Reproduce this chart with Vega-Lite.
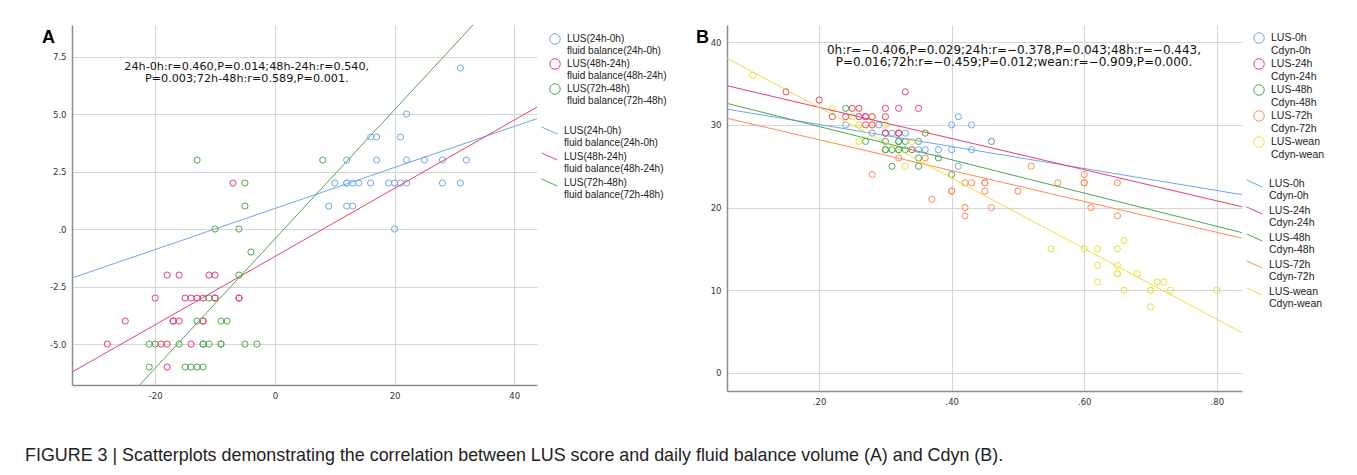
{
  "$schema": "https://vega.github.io/schema/vega-lite/v6.json",
  "background": "white",
  "padding": {"left": 25, "top": 25, "right": 5, "bottom": 5},
  "datasets": {
    "A_pts": [
      {"x": 31, "y": 7, "s": "LUS(24h-0h)|fluid balance(24h-0h)"},
      {"x": 22, "y": 5, "s": "LUS(24h-0h)|fluid balance(24h-0h)"},
      {"x": 16, "y": 4, "s": "LUS(24h-0h)|fluid balance(24h-0h)"},
      {"x": 17, "y": 4, "s": "LUS(24h-0h)|fluid balance(24h-0h)"},
      {"x": 21, "y": 4, "s": "LUS(24h-0h)|fluid balance(24h-0h)"},
      {"x": 12, "y": 3, "s": "LUS(24h-0h)|fluid balance(24h-0h)"},
      {"x": 17, "y": 3, "s": "LUS(24h-0h)|fluid balance(24h-0h)"},
      {"x": 22, "y": 3, "s": "LUS(24h-0h)|fluid balance(24h-0h)"},
      {"x": 25, "y": 3, "s": "LUS(24h-0h)|fluid balance(24h-0h)"},
      {"x": 28, "y": 3, "s": "LUS(24h-0h)|fluid balance(24h-0h)"},
      {"x": 32, "y": 3, "s": "LUS(24h-0h)|fluid balance(24h-0h)"},
      {"x": 10, "y": 2, "s": "LUS(24h-0h)|fluid balance(24h-0h)"},
      {"x": 12, "y": 2, "s": "LUS(24h-0h)|fluid balance(24h-0h)"},
      {"x": 12, "y": 2, "s": "LUS(24h-0h)|fluid balance(24h-0h)"},
      {"x": 13, "y": 2, "s": "LUS(24h-0h)|fluid balance(24h-0h)"},
      {"x": 14, "y": 2, "s": "LUS(24h-0h)|fluid balance(24h-0h)"},
      {"x": 16, "y": 2, "s": "LUS(24h-0h)|fluid balance(24h-0h)"},
      {"x": 19, "y": 2, "s": "LUS(24h-0h)|fluid balance(24h-0h)"},
      {"x": 20, "y": 2, "s": "LUS(24h-0h)|fluid balance(24h-0h)"},
      {"x": 21, "y": 2, "s": "LUS(24h-0h)|fluid balance(24h-0h)"},
      {"x": 22, "y": 2, "s": "LUS(24h-0h)|fluid balance(24h-0h)"},
      {"x": 28, "y": 2, "s": "LUS(24h-0h)|fluid balance(24h-0h)"},
      {"x": 31, "y": 2, "s": "LUS(24h-0h)|fluid balance(24h-0h)"},
      {"x": 9, "y": 1, "s": "LUS(24h-0h)|fluid balance(24h-0h)"},
      {"x": 12, "y": 1, "s": "LUS(24h-0h)|fluid balance(24h-0h)"},
      {"x": 13, "y": 1, "s": "LUS(24h-0h)|fluid balance(24h-0h)"},
      {"x": 20, "y": 0, "s": "LUS(24h-0h)|fluid balance(24h-0h)"},
      {"x": -7, "y": 2, "s": "LUS(48h-24h)|fluid balance(48h-24h)"},
      {"x": -18, "y": -2, "s": "LUS(48h-24h)|fluid balance(48h-24h)"},
      {"x": -16, "y": -2, "s": "LUS(48h-24h)|fluid balance(48h-24h)"},
      {"x": -11, "y": -2, "s": "LUS(48h-24h)|fluid balance(48h-24h)"},
      {"x": -10, "y": -2, "s": "LUS(48h-24h)|fluid balance(48h-24h)"},
      {"x": -20, "y": -3, "s": "LUS(48h-24h)|fluid balance(48h-24h)"},
      {"x": -15, "y": -3, "s": "LUS(48h-24h)|fluid balance(48h-24h)"},
      {"x": -14, "y": -3, "s": "LUS(48h-24h)|fluid balance(48h-24h)"},
      {"x": -13, "y": -3, "s": "LUS(48h-24h)|fluid balance(48h-24h)"},
      {"x": -12, "y": -3, "s": "LUS(48h-24h)|fluid balance(48h-24h)"},
      {"x": -10, "y": -3, "s": "LUS(48h-24h)|fluid balance(48h-24h)"},
      {"x": -10, "y": -3, "s": "LUS(48h-24h)|fluid balance(48h-24h)"},
      {"x": -6, "y": -3, "s": "LUS(48h-24h)|fluid balance(48h-24h)"},
      {"x": -6, "y": -3, "s": "LUS(48h-24h)|fluid balance(48h-24h)"},
      {"x": -25, "y": -4, "s": "LUS(48h-24h)|fluid balance(48h-24h)"},
      {"x": -17, "y": -4, "s": "LUS(48h-24h)|fluid balance(48h-24h)"},
      {"x": -17, "y": -4, "s": "LUS(48h-24h)|fluid balance(48h-24h)"},
      {"x": -16, "y": -4, "s": "LUS(48h-24h)|fluid balance(48h-24h)"},
      {"x": -12, "y": -4, "s": "LUS(48h-24h)|fluid balance(48h-24h)"},
      {"x": -12, "y": -4, "s": "LUS(48h-24h)|fluid balance(48h-24h)"},
      {"x": -28, "y": -5, "s": "LUS(48h-24h)|fluid balance(48h-24h)"},
      {"x": -19, "y": -5, "s": "LUS(48h-24h)|fluid balance(48h-24h)"},
      {"x": -18, "y": -5, "s": "LUS(48h-24h)|fluid balance(48h-24h)"},
      {"x": -14, "y": -5, "s": "LUS(48h-24h)|fluid balance(48h-24h)"},
      {"x": -18, "y": -6, "s": "LUS(48h-24h)|fluid balance(48h-24h)"},
      {"x": -13, "y": 3, "s": "LUS(72h-48h)|fluid balance(72h-48h)"},
      {"x": 8, "y": 3, "s": "LUS(72h-48h)|fluid balance(72h-48h)"},
      {"x": -5, "y": 2, "s": "LUS(72h-48h)|fluid balance(72h-48h)"},
      {"x": -5, "y": 1, "s": "LUS(72h-48h)|fluid balance(72h-48h)"},
      {"x": -10, "y": 0, "s": "LUS(72h-48h)|fluid balance(72h-48h)"},
      {"x": -6, "y": 0, "s": "LUS(72h-48h)|fluid balance(72h-48h)"},
      {"x": -4, "y": -1, "s": "LUS(72h-48h)|fluid balance(72h-48h)"},
      {"x": -6, "y": -2, "s": "LUS(72h-48h)|fluid balance(72h-48h)"},
      {"x": -11, "y": -3, "s": "LUS(72h-48h)|fluid balance(72h-48h)"},
      {"x": -13, "y": -4, "s": "LUS(72h-48h)|fluid balance(72h-48h)"},
      {"x": -9, "y": -4, "s": "LUS(72h-48h)|fluid balance(72h-48h)"},
      {"x": -8, "y": -4, "s": "LUS(72h-48h)|fluid balance(72h-48h)"},
      {"x": -21, "y": -5, "s": "LUS(72h-48h)|fluid balance(72h-48h)"},
      {"x": -20, "y": -5, "s": "LUS(72h-48h)|fluid balance(72h-48h)"},
      {"x": -16, "y": -5, "s": "LUS(72h-48h)|fluid balance(72h-48h)"},
      {"x": -12, "y": -5, "s": "LUS(72h-48h)|fluid balance(72h-48h)"},
      {"x": -12, "y": -5, "s": "LUS(72h-48h)|fluid balance(72h-48h)"},
      {"x": -11, "y": -5, "s": "LUS(72h-48h)|fluid balance(72h-48h)"},
      {"x": -9, "y": -5, "s": "LUS(72h-48h)|fluid balance(72h-48h)"},
      {"x": -9, "y": -5, "s": "LUS(72h-48h)|fluid balance(72h-48h)"},
      {"x": -5, "y": -5, "s": "LUS(72h-48h)|fluid balance(72h-48h)"},
      {"x": -3, "y": -5, "s": "LUS(72h-48h)|fluid balance(72h-48h)"},
      {"x": -21, "y": -6, "s": "LUS(72h-48h)|fluid balance(72h-48h)"},
      {"x": -15, "y": -6, "s": "LUS(72h-48h)|fluid balance(72h-48h)"},
      {"x": -14, "y": -6, "s": "LUS(72h-48h)|fluid balance(72h-48h)"},
      {"x": -13, "y": -6, "s": "LUS(72h-48h)|fluid balance(72h-48h)"},
      {"x": -12, "y": -6, "s": "LUS(72h-48h)|fluid balance(72h-48h)"}
    ],
    "A_fit": [
      {"x": -33.9, "y": -2.13, "f": "LUS(24h-0h)|fluid balance(24h-0h)"},
      {"x": 43.8, "y": 4.8, "f": "LUS(24h-0h)|fluid balance(24h-0h)"},
      {"x": -33.9, "y": -6.22, "f": "LUS(48h-24h)|fluid balance(48h-24h)"},
      {"x": 43.8, "y": 5.3, "f": "LUS(48h-24h)|fluid balance(48h-24h)"},
      {"x": -22.6, "y": -6.78, "f": "LUS(72h-48h)|fluid balance(72h-48h)"},
      {"x": 33.1, "y": 8.87, "f": "LUS(72h-48h)|fluid balance(72h-48h)"}
    ],
    "A_note": [
      {"x": -4.7, "y": 7.03, "t": "24h-0h:r=0.460,P=0.014;48h-24h:r=0.540,\nP=0.003;72h-48h:r=0.589,P=0.001."}
    ],
    "B_pts": [
      {"x": 0.24, "y": 30, "s": "LUS-0h|Cdyn-0h"},
      {"x": 0.28, "y": 29, "s": "LUS-0h|Cdyn-0h"},
      {"x": 0.29, "y": 30, "s": "LUS-0h|Cdyn-0h"},
      {"x": 0.31, "y": 29, "s": "LUS-0h|Cdyn-0h"},
      {"x": 0.33, "y": 29, "s": "LUS-0h|Cdyn-0h"},
      {"x": 0.35, "y": 27, "s": "LUS-0h|Cdyn-0h"},
      {"x": 0.36, "y": 27, "s": "LUS-0h|Cdyn-0h"},
      {"x": 0.38, "y": 27, "s": "LUS-0h|Cdyn-0h"},
      {"x": 0.40, "y": 30, "s": "LUS-0h|Cdyn-0h"},
      {"x": 0.40, "y": 27, "s": "LUS-0h|Cdyn-0h"},
      {"x": 0.41, "y": 31, "s": "LUS-0h|Cdyn-0h"},
      {"x": 0.41, "y": 25, "s": "LUS-0h|Cdyn-0h"},
      {"x": 0.43, "y": 30, "s": "LUS-0h|Cdyn-0h"},
      {"x": 0.43, "y": 27, "s": "LUS-0h|Cdyn-0h"},
      {"x": 0.15, "y": 34, "s": "LUS-24h|Cdyn-24h"},
      {"x": 0.20, "y": 33, "s": "LUS-24h|Cdyn-24h"},
      {"x": 0.22, "y": 31, "s": "LUS-24h|Cdyn-24h"},
      {"x": 0.24, "y": 31, "s": "LUS-24h|Cdyn-24h"},
      {"x": 0.25, "y": 32, "s": "LUS-24h|Cdyn-24h"},
      {"x": 0.26, "y": 32, "s": "LUS-24h|Cdyn-24h"},
      {"x": 0.26, "y": 31, "s": "LUS-24h|Cdyn-24h"},
      {"x": 0.27, "y": 31, "s": "LUS-24h|Cdyn-24h"},
      {"x": 0.27, "y": 31, "s": "LUS-24h|Cdyn-24h"},
      {"x": 0.27, "y": 30, "s": "LUS-24h|Cdyn-24h"},
      {"x": 0.28, "y": 31, "s": "LUS-24h|Cdyn-24h"},
      {"x": 0.28, "y": 30, "s": "LUS-24h|Cdyn-24h"},
      {"x": 0.30, "y": 32, "s": "LUS-24h|Cdyn-24h"},
      {"x": 0.30, "y": 31, "s": "LUS-24h|Cdyn-24h"},
      {"x": 0.30, "y": 29, "s": "LUS-24h|Cdyn-24h"},
      {"x": 0.30, "y": 29, "s": "LUS-24h|Cdyn-24h"},
      {"x": 0.32, "y": 32, "s": "LUS-24h|Cdyn-24h"},
      {"x": 0.32, "y": 29, "s": "LUS-24h|Cdyn-24h"},
      {"x": 0.32, "y": 29, "s": "LUS-24h|Cdyn-24h"},
      {"x": 0.33, "y": 34, "s": "LUS-24h|Cdyn-24h"},
      {"x": 0.34, "y": 27, "s": "LUS-24h|Cdyn-24h"},
      {"x": 0.35, "y": 32, "s": "LUS-24h|Cdyn-24h"},
      {"x": 0.24, "y": 32, "s": "LUS-48h|Cdyn-48h"},
      {"x": 0.27, "y": 28, "s": "LUS-48h|Cdyn-48h"},
      {"x": 0.30, "y": 28, "s": "LUS-48h|Cdyn-48h"},
      {"x": 0.30, "y": 27, "s": "LUS-48h|Cdyn-48h"},
      {"x": 0.30, "y": 27, "s": "LUS-48h|Cdyn-48h"},
      {"x": 0.31, "y": 27, "s": "LUS-48h|Cdyn-48h"},
      {"x": 0.31, "y": 25, "s": "LUS-48h|Cdyn-48h"},
      {"x": 0.32, "y": 28, "s": "LUS-48h|Cdyn-48h"},
      {"x": 0.32, "y": 28, "s": "LUS-48h|Cdyn-48h"},
      {"x": 0.32, "y": 27, "s": "LUS-48h|Cdyn-48h"},
      {"x": 0.32, "y": 27, "s": "LUS-48h|Cdyn-48h"},
      {"x": 0.33, "y": 28, "s": "LUS-48h|Cdyn-48h"},
      {"x": 0.33, "y": 27, "s": "LUS-48h|Cdyn-48h"},
      {"x": 0.35, "y": 28, "s": "LUS-48h|Cdyn-48h"},
      {"x": 0.35, "y": 26, "s": "LUS-48h|Cdyn-48h"},
      {"x": 0.35, "y": 25, "s": "LUS-48h|Cdyn-48h"},
      {"x": 0.36, "y": 29, "s": "LUS-48h|Cdyn-48h"},
      {"x": 0.38, "y": 26, "s": "LUS-48h|Cdyn-48h"},
      {"x": 0.40, "y": 24, "s": "LUS-48h|Cdyn-48h"},
      {"x": 0.46, "y": 28, "s": "LUS-48h|Cdyn-48h"},
      {"x": 0.28, "y": 31, "s": "LUS-72h|Cdyn-72h"},
      {"x": 0.28, "y": 30, "s": "LUS-72h|Cdyn-72h"},
      {"x": 0.28, "y": 24, "s": "LUS-72h|Cdyn-72h"},
      {"x": 0.32, "y": 26, "s": "LUS-72h|Cdyn-72h"},
      {"x": 0.36, "y": 26, "s": "LUS-72h|Cdyn-72h"},
      {"x": 0.37, "y": 21, "s": "LUS-72h|Cdyn-72h"},
      {"x": 0.40, "y": 22, "s": "LUS-72h|Cdyn-72h"},
      {"x": 0.40, "y": 22, "s": "LUS-72h|Cdyn-72h"},
      {"x": 0.42, "y": 23, "s": "LUS-72h|Cdyn-72h"},
      {"x": 0.42, "y": 20, "s": "LUS-72h|Cdyn-72h"},
      {"x": 0.42, "y": 19, "s": "LUS-72h|Cdyn-72h"},
      {"x": 0.43, "y": 23, "s": "LUS-72h|Cdyn-72h"},
      {"x": 0.45, "y": 23, "s": "LUS-72h|Cdyn-72h"},
      {"x": 0.45, "y": 23, "s": "LUS-72h|Cdyn-72h"},
      {"x": 0.45, "y": 22, "s": "LUS-72h|Cdyn-72h"},
      {"x": 0.46, "y": 20, "s": "LUS-72h|Cdyn-72h"},
      {"x": 0.50, "y": 22, "s": "LUS-72h|Cdyn-72h"},
      {"x": 0.52, "y": 25, "s": "LUS-72h|Cdyn-72h"},
      {"x": 0.56, "y": 23, "s": "LUS-72h|Cdyn-72h"},
      {"x": 0.60, "y": 24, "s": "LUS-72h|Cdyn-72h"},
      {"x": 0.60, "y": 23, "s": "LUS-72h|Cdyn-72h"},
      {"x": 0.60, "y": 23, "s": "LUS-72h|Cdyn-72h"},
      {"x": 0.61, "y": 20, "s": "LUS-72h|Cdyn-72h"},
      {"x": 0.65, "y": 23, "s": "LUS-72h|Cdyn-72h"},
      {"x": 0.65, "y": 19, "s": "LUS-72h|Cdyn-72h"},
      {"x": 0.10, "y": 36, "s": "LUS-wean|Cdyn-wean"},
      {"x": 0.22, "y": 32, "s": "LUS-wean|Cdyn-wean"},
      {"x": 0.25, "y": 31, "s": "LUS-wean|Cdyn-wean"},
      {"x": 0.26, "y": 30, "s": "LUS-wean|Cdyn-wean"},
      {"x": 0.26, "y": 28, "s": "LUS-wean|Cdyn-wean"},
      {"x": 0.30, "y": 30, "s": "LUS-wean|Cdyn-wean"},
      {"x": 0.33, "y": 25, "s": "LUS-wean|Cdyn-wean"},
      {"x": 0.34, "y": 28, "s": "LUS-wean|Cdyn-wean"},
      {"x": 0.55, "y": 15, "s": "LUS-wean|Cdyn-wean"},
      {"x": 0.60, "y": 15, "s": "LUS-wean|Cdyn-wean"},
      {"x": 0.62, "y": 15, "s": "LUS-wean|Cdyn-wean"},
      {"x": 0.65, "y": 15, "s": "LUS-wean|Cdyn-wean"},
      {"x": 0.66, "y": 16, "s": "LUS-wean|Cdyn-wean"},
      {"x": 0.62, "y": 13, "s": "LUS-wean|Cdyn-wean"},
      {"x": 0.65, "y": 13, "s": "LUS-wean|Cdyn-wean"},
      {"x": 0.65, "y": 12, "s": "LUS-wean|Cdyn-wean"},
      {"x": 0.65, "y": 12, "s": "LUS-wean|Cdyn-wean"},
      {"x": 0.68, "y": 12, "s": "LUS-wean|Cdyn-wean"},
      {"x": 0.62, "y": 11, "s": "LUS-wean|Cdyn-wean"},
      {"x": 0.71, "y": 11, "s": "LUS-wean|Cdyn-wean"},
      {"x": 0.72, "y": 11, "s": "LUS-wean|Cdyn-wean"},
      {"x": 0.66, "y": 10, "s": "LUS-wean|Cdyn-wean"},
      {"x": 0.70, "y": 10, "s": "LUS-wean|Cdyn-wean"},
      {"x": 0.70, "y": 10, "s": "LUS-wean|Cdyn-wean"},
      {"x": 0.73, "y": 10, "s": "LUS-wean|Cdyn-wean"},
      {"x": 0.80, "y": 10, "s": "LUS-wean|Cdyn-wean"},
      {"x": 0.70, "y": 8, "s": "LUS-wean|Cdyn-wean"}
    ],
    "B_fit": [
      {"x": 0.061, "y": 31.9, "f": "LUS-0h|Cdyn-0h"},
      {"x": 0.838, "y": 21.56, "f": "LUS-0h|Cdyn-0h"},
      {"x": 0.061, "y": 34.74, "f": "LUS-24h|Cdyn-24h"},
      {"x": 0.838, "y": 20.1, "f": "LUS-24h|Cdyn-24h"},
      {"x": 0.061, "y": 32.6, "f": "LUS-48h|Cdyn-48h"},
      {"x": 0.838, "y": 16.97, "f": "LUS-48h|Cdyn-48h"},
      {"x": 0.061, "y": 30.8, "f": "LUS-72h|Cdyn-72h"},
      {"x": 0.838, "y": 16.3, "f": "LUS-72h|Cdyn-72h"},
      {"x": 0.061, "y": 38.05, "f": "LUS-wean|Cdyn-wean"},
      {"x": 0.838, "y": 4.87, "f": "LUS-wean|Cdyn-wean"}
    ],
    "B_note": [
      {"x": 0.494, "y": 39.05, "t": "0h:r=−0.406,P=0.029;24h:r=−0.378,P=0.043;48h:r=−0.443,\nP=0.016;72h:r=−0.459;P=0.012;wean:r=−0.909,P=0.000."}
    ]
  },
  "hconcat": [
    {
      "width": 465,
      "height": 360,
      "title": {"text": "A", "anchor": "start", "frame": "group", "fontSize": 18, "fontWeight": "bold", "font": "Liberation Sans", "color": "#000", "dx": -30, "dy": 22, "offset": 0},
      "layer": [
        {
          "data": {"name": "A_pts"},
          "mark": {"type": "point", "shape": "circle", "filled": false, "size": 38, "strokeWidth": 1, "opacity": 1},
          "encoding": {
            "x": {"field": "x", "type": "quantitative", "scale": {"domain": [-33.9, 43.8], "nice": false, "zero": false},
                  "axis": {"title": null, "values": [-20, 0, 20, 40], "labelExpr": "datum.value < 0 ? '-' + abs(datum.value) : datum.label"}},
            "y": {"field": "y", "type": "quantitative", "scale": {"domain": [-6.78, 8.87], "nice": false, "zero": false},
                  "axis": {"title": null, "values": [-5, -2.5, 0, 2.5, 5, 7.5], "labelExpr": "datum.value == 0 ? '.0' : (datum.value < 0 ? '-' + format(abs(datum.value), '.1f') : format(datum.value, '.1f'))"}},
            "color": {"field": "s", "type": "nominal",
                      "scale": {"domain": ["LUS(24h-0h)|fluid balance(24h-0h)", "LUS(48h-24h)|fluid balance(48h-24h)", "LUS(72h-48h)|fluid balance(72h-48h)"], "range": ["#6fa6ee", "#e6406a", "#4fa84f"]},
                      "legend": {"title": null, "labelExpr": "split(datum.label, '|')", "symbolType": "circle", "symbolSize": 110, "symbolStrokeWidth": 1, "labelFontSize": 10, "padding": 8, "offset": -4, "rowPadding": 0}}
          }
        },
        {
          "data": {"name": "A_fit"},
          "mark": {"type": "line", "clip": true, "strokeWidth": 1},
          "encoding": {
            "x": {"field": "x", "type": "quantitative", "scale": {"domain": [-33.9, 43.8], "nice": false, "zero": false}},
            "y": {"field": "y", "type": "quantitative", "scale": {"domain": [-6.78, 8.87], "nice": false, "zero": false}},
            "stroke": {"field": "f", "type": "nominal",
                       "scale": {"domain": ["LUS(24h-0h)|fluid balance(24h-0h)", "LUS(48h-24h)|fluid balance(48h-24h)", "LUS(72h-48h)|fluid balance(72h-48h)"], "range": ["#6fa6ee", "#e6406a", "#4fa84f"]},
                       "legend": {"title": null, "labelExpr": "split(datum.label, '|')", "symbolType": "M-1,-0.45L1,0.45", "symbolSize": 250, "symbolStrokeWidth": 1, "labelFontSize": 10, "padding": 0, "offset": 4, "rowPadding": 0}}
          }
        },
        {
          "data": {"name": "A_note"},
          "mark": {"type": "text", "fontSize": 11.2, "font": "DejaVu Sans", "color": "#111", "align": "center", "baseline": "middle", "lineBreak": "\n", "lineHeight": 11.4},
          "encoding": {
            "x": {"field": "x", "type": "quantitative", "scale": {"domain": [-33.9, 43.8], "nice": false, "zero": false}},
            "y": {"field": "y", "type": "quantitative", "scale": {"domain": [-6.78, 8.87], "nice": false, "zero": false}},
            "text": {"field": "t"}
          }
        }
      ],
      "resolve": {"legend": {"color": "independent", "stroke": "independent"}}
    },
    {
      "width": 515,
      "height": 366,
      "title": {"text": "B", "anchor": "start", "frame": "group", "fontSize": 18, "fontWeight": "bold", "font": "Liberation Sans", "color": "#000", "dx": -31, "dy": 22, "offset": 0},
      "layer": [
        {
          "data": {"name": "B_pts"},
          "mark": {"type": "point", "shape": "circle", "filled": false, "size": 38, "strokeWidth": 1, "opacity": 1},
          "encoding": {
            "x": {"field": "x", "type": "quantitative", "scale": {"domain": [0.061, 0.838], "nice": false, "zero": false},
                  "axis": {"title": null, "values": [0.2, 0.4, 0.6, 0.8], "labelExpr": "replace(format(datum.value, '.2f'), '0.', '.')"}},
            "y": {"field": "y", "type": "quantitative", "scale": {"domain": [-2.18, 42.08], "nice": false, "zero": false},
                  "axis": {"title": null, "values": [0, 10, 20, 30, 40]}},
            "color": {"field": "s", "type": "nominal",
                      "scale": {"domain": ["LUS-0h|Cdyn-0h", "LUS-24h|Cdyn-24h", "LUS-48h|Cdyn-48h", "LUS-72h|Cdyn-72h", "LUS-wean|Cdyn-wean"], "range": ["#6fa6ee", "#e6406a", "#4fa84f", "#ff8a55", "#e8e03c"]},
                      "legend": {"title": null, "labelExpr": "split(datum.label, '|')", "symbolType": "circle", "symbolSize": 110, "symbolStrokeWidth": 1, "labelFontSize": 10.5, "padding": 7, "offset": -3, "rowPadding": 0}}
          }
        },
        {
          "data": {"name": "B_fit"},
          "mark": {"type": "line", "clip": true, "strokeWidth": 1},
          "encoding": {
            "x": {"field": "x", "type": "quantitative", "scale": {"domain": [0.061, 0.838], "nice": false, "zero": false}},
            "y": {"field": "y", "type": "quantitative", "scale": {"domain": [-2.18, 42.08], "nice": false, "zero": false}},
            "stroke": {"field": "f", "type": "nominal",
                       "scale": {"domain": ["LUS-0h|Cdyn-0h", "LUS-24h|Cdyn-24h", "LUS-48h|Cdyn-48h", "LUS-72h|Cdyn-72h", "LUS-wean|Cdyn-wean"], "range": ["#6fa6ee", "#e6406a", "#4fa84f", "#ff8a55", "#e8e03c"]},
                       "legend": {"title": null, "labelExpr": "split(datum.label, '|')", "symbolType": "M-1,-0.45L1,0.45", "symbolSize": 250, "symbolStrokeWidth": 1, "labelFontSize": 10.5, "padding": 0, "offset": 4, "rowPadding": 0}}
          }
        },
        {
          "data": {"name": "B_note"},
          "mark": {"type": "text", "fontSize": 12, "font": "DejaVu Sans", "color": "#111", "align": "center", "baseline": "middle", "lineBreak": "\n", "lineHeight": 12},
          "encoding": {
            "x": {"field": "x", "type": "quantitative", "scale": {"domain": [0.061, 0.838], "nice": false, "zero": false}},
            "y": {"field": "y", "type": "quantitative", "scale": {"domain": [-2.18, 42.08], "nice": false, "zero": false}},
            "text": {"field": "t"}
          }
        }
      ],
      "resolve": {"legend": {"color": "independent", "stroke": "independent"}}
    }
  ],
  "spacing": 21,
  "resolve": {"scale": {"x": "independent", "y": "independent", "color": "independent", "stroke": "independent"}, "legend": {"color": "independent", "stroke": "independent"}},
  "title": {"text": "FIGURE 3 | Scatterplots demonstrating the correlation between LUS score and daily fluid balance volume (A) and Cdyn (B).", "orient": "bottom", "anchor": "start", "frame": "bounds", "fontSize": 17.9, "font": "Liberation Sans", "fontWeight": "normal", "color": "#222", "offset": 41, "dx": -17},
  "config": {
    "view": {"stroke": null},
    "font": "Liberation Sans",
    "axis": {"domainColor": "#8c8c8c", "domainWidth": 1.5, "gridColor": "#d6d6d6", "gridWidth": 1, "ticks": false, "labelFontSize": 8.5, "labelFont": "DejaVu Sans", "labelColor": "#333", "labelPadding": 6},
    "legend": {"labelColor": "#222", "labelLimit": 300, "labelOffset": 6, "labelFont": "Liberation Sans"}
  }
}
